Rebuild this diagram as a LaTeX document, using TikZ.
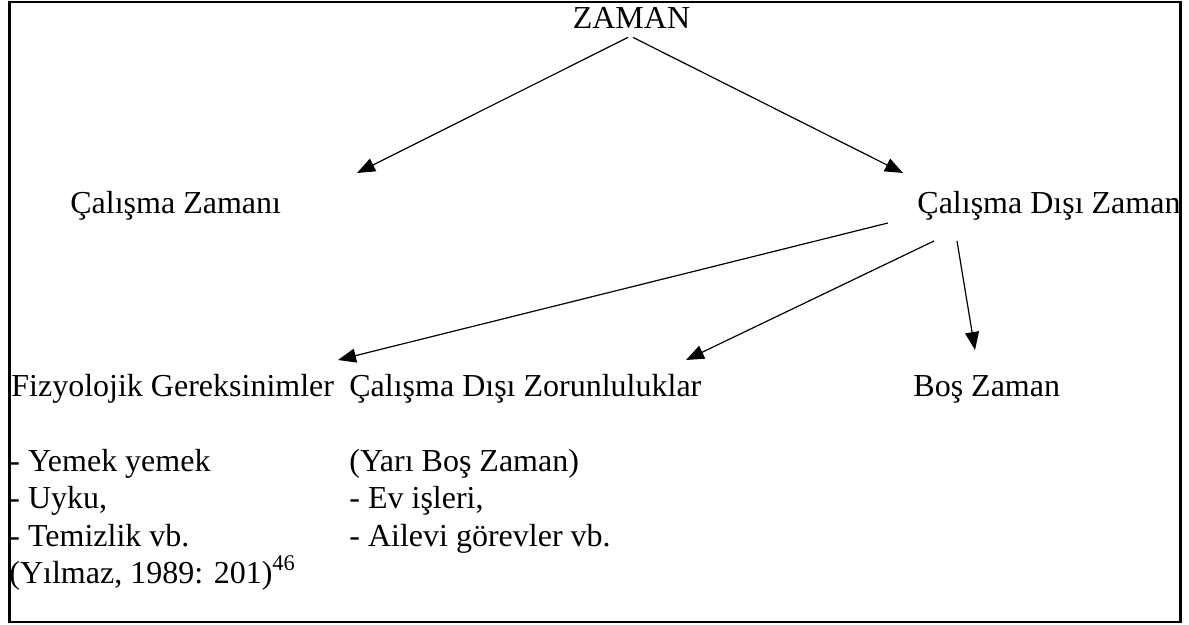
\documentclass[tikz,border=0pt]{standalone}
\usepackage{fontspec}
\setmainfont{Liberation Serif}
\usetikzlibrary{arrows.meta}
\begin{document}
\begin{tikzpicture}[x=0.5pt, y=-0.5pt,
    lbl/.style={anchor=base west, inner sep=0pt, font=\fontsize{16}{19}\selectfont},
    arr/.style={line width=0.6pt, -{Triangle[length=9pt, width=7pt]}}]
    \useasboundingbox (0, 0) rectangle (1189, 625);
    \draw[line width=1.1pt] (9.5, 2) rectangle (1180.5, 622);
    \node[lbl, anchor=base] (zaman) at (631.5, 29) {ZAMAN};
    \node[lbl] (czaman) at (70, 214) {Çalışma Zamanı};
    \node[lbl] (cdisi) at (917, 214) {Çalışma Dışı Zaman};
    \node[lbl] (fizy) at (11, 397) {Fizyolojik Gereksinimler};
    \node[lbl] (zorun) at (349, 397) {Çalışma Dışı Zorunluluklar};
    \node[lbl] (bos) at (913, 397) {Boş Zaman};
    \foreach \t [count=\i] in {{- Yemek yemek}, {- Uyku,}, {- Temizlik vb.}, {(Yılmaz, 1989: 201)\textsuperscript{46}}}
      \node[lbl] (fz\i) at (9, {472+37*(\i-1)}) {\t};
    \foreach \t [count=\i] in {{(Yarı Boş Zaman)}, {- Ev işleri,}, {- Ailevi görevler vb.}}
      \node[lbl] (zr\i) at (349, {472+37*(\i-1)}) {\t};
    \draw[arr] ([shift={(-3.5, 8)}]zaman.south) -- ([shift={(287, -41)}]czaman.base west);
    \draw[arr] ([shift={(1.5, 8)}]zaman.south) -- ([shift={(-14, -41)}]cdisi.base west);
    \draw[arr] ([shift={(-29, 9)}]cdisi.base west) -- ([shift={(327, -37)}]fizy.base west);
    \draw[arr] ([shift={(17, 27)}]cdisi.base west) -- ([shift={(337, -37)}]zorun.base west);
    \draw[arr] ([shift={(40, 27)}]cdisi.base west) -- ([shift={(62, -47)}]bos.base west);
  \end{tikzpicture}
\end{document}
